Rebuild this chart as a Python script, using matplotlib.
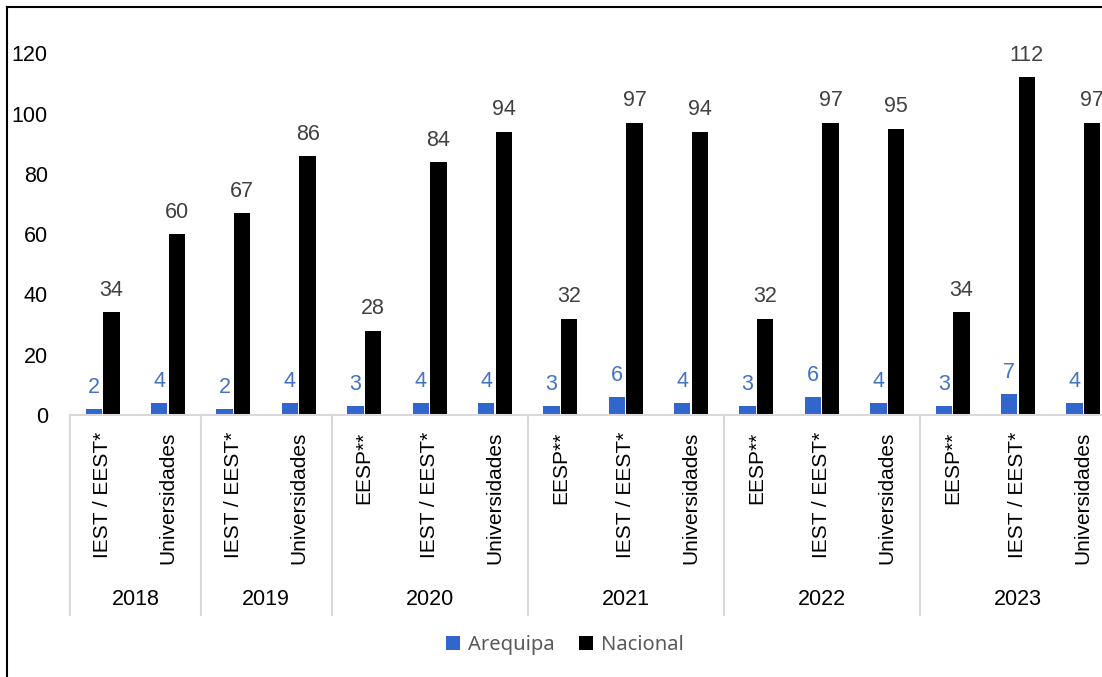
import numpy as np
import matplotlib.pyplot as plt
from matplotlib.lines import Line2D

plt.rcParams['font.family'] = ['Liberation Sans', 'DejaVu Sans']

years = ['2018', '2019', '2020', '2021', '2022', '2023']
groups = [
    ['IEST / EEST*', 'Universidades'],
    ['IEST / EEST*', 'Universidades'],
    ['EESP**', 'IEST / EEST*', 'Universidades'],
    ['EESP**', 'IEST / EEST*', 'Universidades'],
    ['EESP**', 'IEST / EEST*', 'Universidades'],
    ['EESP**', 'IEST / EEST*', 'Universidades'],
]
arequipa = [2, 4, 2, 4, 3, 4, 4, 3, 6, 4, 3, 6, 4, 3, 7, 4]
nacional = [34, 60, 67, 86, 28, 84, 94, 32, 97, 94, 32, 97, 95, 34, 112, 97]

blue = '#3366CC'
fig = plt.figure(figsize=(11.02, 6.77), dpi=100)
ax = fig.add_axes([70 / 1102, (677 - 415) / 677, 1046 / 1102, 407 / 677])

x = np.arange(len(arequipa)) + 0.5
w = 0.25
off = 0.135
b1 = ax.bar(x - off, arequipa, w, color=blue, label='Arequipa')
b2 = ax.bar(x + off, nacional, w, color='black', label='Nacional')
for xi, v in zip(x - off, arequipa):
    ax.annotate(str(v), (xi, v), xytext=(0, 8), textcoords='offset points',
                ha='center', va='bottom', fontsize=15.5, color='#4472C4')
for xi, v in zip(x + off, nacional):
    ax.annotate(str(v), (xi, v), xytext=(0, 8), textcoords='offset points',
                ha='center', va='bottom', fontsize=15.5, color='#404040')

ax.set_xlim(0, len(arequipa))
ax.set_ylim(0, 135)
ax.set_yticks(range(0, 121, 20))
ax.tick_params(axis='y', length=0, labelsize=15.5, pad=16)
ax.set_xticks([])
for s in ['top', 'right', 'left']:
    ax.spines[s].set_visible(False)
ax.spines['bottom'].set_color('#D9D9D9')
ax.spines['bottom'].set_linewidth(1.5)

# multi-level category axis
tr = ax.get_xaxis_transform()
pos = 0
bounds = [0]
for yr, cats in zip(years, groups):
    for i, c in enumerate(cats):
        ax.annotate(c, (pos + i + 0.5, 0), xycoords=tr, xytext=(0, -12),
                    textcoords='offset points', rotation=90, ha='center',
                    va='top', fontsize=15)
    ax.annotate(yr, (pos + len(cats) / 2, 0), xycoords=tr, xytext=(0, -133),
                textcoords='offset points', ha='center', va='center',
                fontsize=15.5)
    pos += len(cats)
    bounds.append(pos)
for bx in bounds:
    ax.add_line(Line2D([bx, bx], [0, -200 / 407], transform=tr,
                       color='#D9D9D9', lw=1.5, clip_on=False))

leg = fig.legend(handles=[b1, b2], loc='center', bbox_to_anchor=(565 / 1102, 1 - 645 / 677),
                 ncol=2, frameon=False, handlelength=0.7,
                 handleheight=0.7, handletextpad=0.4, columnspacing=1.2,
                 prop={'family': ['Noto Sans', 'DejaVu Sans'], 'size': 14.5})
for t in leg.get_texts():
    t.set_color('#595959')

# outer border (left and top visible)
fig.add_artist(Line2D([7 / 1102, 7 / 1102], [0, 1 - 7 / 677], transform=fig.transFigure,
                      color='black', lw=1.5))
fig.add_artist(Line2D([7 / 1102, 1], [1 - 7 / 677, 1 - 7 / 677], transform=fig.transFigure,
                      color='black', lw=1.5))

fig.savefig('out.png', dpi=100)
